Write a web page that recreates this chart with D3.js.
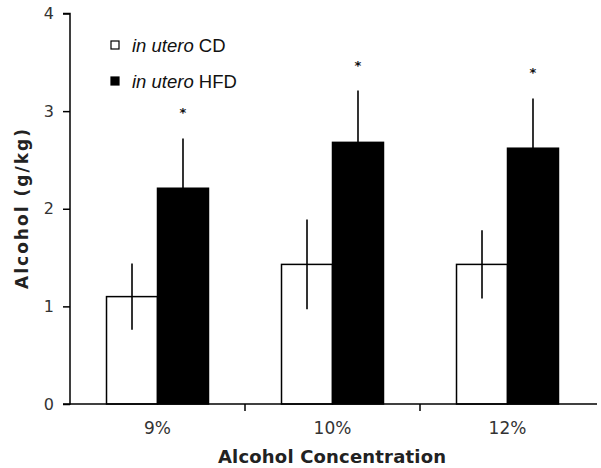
<!DOCTYPE html>
<html><head><meta charset="utf-8">
<script src="https://cdn.jsdelivr.net/npm/d3@7"></script>
<style>body{margin:0;background:#fff}svg{display:block}</style>
</head><body><svg id="c" width="601" height="468"></svg>
<script>
const categories = ["9%", "10%", "12%"];
const seriesNames = ["CD", "HFD"];
const cdMeans = [1.10, 1.43, 1.43];
const cdErrors = [0.34, 0.46, 0.35];
const hfdMeans = [2.21, 2.68, 2.62];
const hfdErrors = [0.51, 0.53, 0.51];
const significant = [true, true, true];
const yTicks = [0, 1, 2, 3, 4];

const svg = d3.select("#c");
const mLeft = 70, mRight = 595, mTop = 13.5, mBottom = 404;
const x0 = d3.scaleBand().domain(categories).range([mLeft, mRight]).padding(0);
const x1 = d3.scaleBand().domain(seriesNames).range([0, x0.bandwidth()]).paddingInner(0).paddingOuter(0.716);
const y = d3.scaleLinear().domain([0, 4]).range([mBottom, mTop]);

const rows = categories.map((c, i) => [
  {cat: c, s: "CD", v: cdMeans[i], e: cdErrors[i], fill: "#fff", errDown: true},
  {cat: c, s: "HFD", v: hfdMeans[i], e: hfdErrors[i], fill: "#000", errDown: false}
]).flat();

// bars
svg.append("g").selectAll("rect").data(rows).join("rect")
  .attr("x", d => x0(d.cat) + x1(d.s))
  .attr("y", d => y(d.v))
  .attr("width", x1.bandwidth())
  .attr("height", d => y(0) - y(d.v))
  .attr("fill", d => d.fill)
  .attr("stroke", "#000")
  .attr("stroke-width", 1.5);

// error bars
svg.append("g").selectAll("line").data(rows).join("line")
  .attr("x1", d => x0(d.cat) + x1(d.s) + x1.bandwidth() / 2)
  .attr("x2", d => x0(d.cat) + x1(d.s) + x1.bandwidth() / 2)
  .attr("y1", d => y(d.v + d.e))
  .attr("y2", d => d.errDown ? y(d.v - d.e) : y(d.v))
  .attr("stroke", "#000")
  .attr("stroke-width", 1.6);

// stars
const hfdRows = rows.filter(d => d.s === "HFD");
svg.append("g").selectAll("text").data(hfdRows.filter((d, i) => significant[i])).join("text")
  .attr("x", d => x0(d.cat) + x1(d.s) + x1.bandwidth() / 2)
  .attr("y", d => y(d.v + d.e) - 21)
  .attr("text-anchor", "middle")
  .attr("font-family", "DejaVu Sans, sans-serif")
  .attr("font-size", 13)
  .attr("font-weight", "bold")
  .attr("fill", "#111")
  .text("*");

// y axis
const yAxis = d3.axisLeft(y).tickValues(yTicks).tickFormat(d3.format("d")).tickSize(7).tickPadding(9);
const gy = svg.append("g").attr("transform", `translate(${mLeft},0)`).call(yAxis);
gy.select(".domain").attr("stroke", "#000").attr("stroke-width", 1.5).attr("d", `M-7,${mTop}H0V${mBottom}H-7`);
gy.selectAll(".tick line").attr("stroke", "#000").attr("stroke-width", 1.5);
gy.selectAll(".tick text").attr("font-family", "DejaVu Sans, sans-serif").attr("font-size", 16).attr("fill", "#333");

// x axis
const xAxis = d3.axisBottom(x0).tickSize(0).tickPadding(18);
const gx = svg.append("g").attr("transform", `translate(0,${mBottom})`).call(xAxis);
gx.select(".domain").attr("stroke", "#000").attr("stroke-width", 1.5).attr("d", `M${mLeft},0H${mRight + 2}`);
gx.selectAll(".tick text").attr("font-family", "DejaVu Sans, sans-serif").attr("font-size", 17).attr("fill", "#333");
// boundary ticks between categories
svg.append("g").selectAll("line").data(categories.slice(1)).join("line")
  .attr("x1", d => x0(d)).attr("x2", d => x0(d))
  .attr("y1", mBottom).attr("y2", mBottom + 7)
  .attr("stroke", "#000").attr("stroke-width", 1.5);

// axis titles
svg.append("text")
  .attr("transform", `translate(28,${(128 + 290) / 2}) rotate(-90)`)
  .attr("text-anchor", "middle")
  .attr("font-family", "DejaVu Sans, sans-serif").attr("font-weight", "bold").attr("font-size", 17)
  .attr("fill", "#222")
  .attr("textLength", 160).attr("lengthAdjust", "spacing")
  .text("Alcohol (g/kg)");
svg.append("text")
  .attr("x", 332).attr("y", 463)
  .attr("text-anchor", "middle")
  .attr("font-family", "DejaVu Sans, sans-serif").attr("font-weight", "bold").attr("font-size", 18)
  .attr("fill", "#222")
  .attr("textLength", 228).attr("lengthAdjust", "spacing")
  .text("Alcohol Concentration");

// legend
const legend = [
  {fill: "#fff", name: "CD"},
  {fill: "#000", name: "HFD"}
];
const lg = svg.append("g").selectAll("g").data(legend).join("g")
  .attr("transform", (d, i) => `translate(111,${41 + i * 36})`);
lg.append("rect").attr("width", 8).attr("height", 8).attr("fill", d => d.fill).attr("stroke", "#000").attr("stroke-width", 1.2);
const lt = lg.append("text").attr("x", 21).attr("y", 11)
  .attr("font-family", "Liberation Sans, Arial, sans-serif").attr("font-size", 18.5).attr("fill", "#111");
lt.append("tspan").attr("font-style", "italic").text("in utero");
lt.append("tspan").text(d => " " + d.name);
</script></body></html>
